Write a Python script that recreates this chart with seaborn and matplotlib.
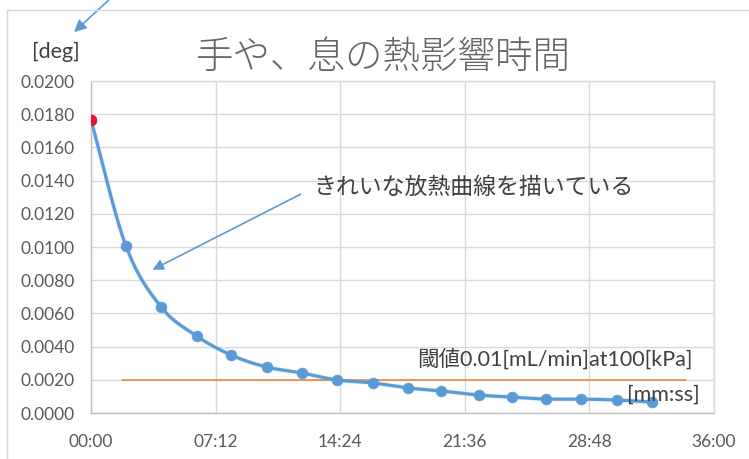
import numpy as np
import pandas as pd
import matplotlib
matplotlib.use("Agg")
import matplotlib.pyplot as plt
from matplotlib.patches import FancyArrowPatch
import seaborn as sns

# Elapsed time [min] and temperature difference [deg]
minutes = [0.0, 2.02, 4.05, 6.1, 8.1, 10.15, 12.2, 14.2, 16.3, 18.3,
           20.25, 22.4, 24.35, 26.3, 28.3, 30.4, 32.4]
deg = [0.01765, 0.01006, 0.00639, 0.00464, 0.00349, 0.00277, 0.00241,
       0.00199, 0.00181, 0.00151, 0.00133, 0.00108, 0.00096, 0.00084,
       0.00084, 0.00078, 0.00066]

# Threshold line (start / end minute, level)
threshold_minutes = [1.8, 34.4]
threshold_level = [0.0020, 0.0020]

x_ticks = [0.0, 7.2, 14.4, 21.6, 28.8, 36.0]
x_tick_labels = ["00:00", "07:12", "14:24", "21:36", "28:48", "36:00"]
y_ticks = [0.000, 0.002, 0.004, 0.006, 0.008, 0.010, 0.012, 0.014, 0.016, 0.018, 0.020]

title = "手や、息の熱影響時間"
note = "きれいな放熱曲線を描いている"
threshold_note = "閾値0.01[mL/min]at100[kPa]"

sns.set_theme(style="white")
plt.rcParams["font.family"] = ["Lato", "Noto Sans CJK JP", "DejaVu Sans"]

W, H = 749, 459
fig = plt.figure(figsize=(W / 100, H / 100), dpi=100)
ax = fig.add_axes([91 / W, (H - 413) / H, 623 / W, (413 - 81) / H])

df = pd.DataFrame({"minutes": minutes, "deg": deg})


def catmull_rom(x, y, n=30):
    """Smooth curve through the points (Catmull-Rom segments)."""
    x = np.asarray(x, float)
    y = np.asarray(y, float)
    px = np.concatenate([[2 * x[0] - x[1]], x, [2 * x[-1] - x[-2]]])
    py = np.concatenate([[2 * y[0] - y[1]], y, [2 * y[-1] - y[-2]]])
    xs, ys = [], []
    t = np.linspace(0, 1, n, endpoint=False)
    for i in range(1, len(px) - 2):
        for arr, out in ((px, xs), (py, ys)):
            p0, p1, p2, p3 = arr[i - 1], arr[i], arr[i + 1], arr[i + 2]
            out.extend(0.5 * ((2 * p1) + (-p0 + p2) * t
                              + (2 * p0 - 5 * p1 + 4 * p2 - p3) * t ** 2
                              + (-p0 + 3 * p1 - 3 * p2 + p3) * t ** 3))
    xs.append(x[-1])
    ys.append(y[-1])
    return pd.DataFrame({"minutes": xs, "deg": ys})


curve = catmull_rom(df["minutes"], df["deg"])

blue = "#5B9BD5"
# faint halo then the curve itself
sns.lineplot(data=curve, x="minutes", y="deg", ax=ax, sort=False, estimator=None,
             color="#CFE8F7", linewidth=3.6, alpha=0.5, zorder=3)
sns.lineplot(data=curve, x="minutes", y="deg", ax=ax, sort=False, estimator=None,
             color=blue, linewidth=2.3, zorder=4)
sns.scatterplot(data=df, x="minutes", y="deg", ax=ax, color=blue, s=60,
                edgecolor=blue, linewidth=0.5, zorder=5)
sns.scatterplot(data=df.iloc[:1], x="minutes", y="deg", ax=ax, color="#E8162E",
                s=60, edgecolor="#E8162E", linewidth=0.5, zorder=6)

thr = pd.DataFrame({"minutes": threshold_minutes, "deg": threshold_level})
sns.lineplot(data=thr, x="minutes", y="deg", ax=ax, color="#ED7D31",
             linewidth=1.1, zorder=3.5)

ax.set_xlim(0, 36)
ax.set_ylim(0, 0.02)
ax.set_xticks(x_ticks)
ax.set_xticklabels(x_tick_labels)
ax.set_yticks(y_ticks)
ax.set_yticklabels([f"{v:.4f}" for v in y_ticks])
ax.set_xlabel("")
ax.set_ylabel("")
ax.grid(True, color="#D9D9D9", linewidth=1.0)
ax.set_axisbelow(True)
for side in ("top", "right"):
    ax.spines[side].set_color("#D9D9D9")
    ax.spines[side].set_linewidth(1.0)
for side in ("left", "bottom"):
    ax.spines[side].set_color("#BFBFBF")
    ax.spines[side].set_linewidth(1.0)
ax.tick_params(axis="both", length=0, labelsize=12.5, labelcolor="#595959")
ax.tick_params(axis="y", pad=12)
ax.tick_params(axis="x", pad=15)

# chart border
fig.add_artist(plt.Line2D([7 / W, 1.02], [1 - 10 / H, 1 - 10 / H],
                          transform=fig.transFigure, color="#D9D9D9", lw=1.0))
fig.add_artist(plt.Line2D([7 / W, 7 / W], [-0.02, 1 - 10 / H],
                          transform=fig.transFigure, color="#D9D9D9", lw=1.0))

# titles and unit labels
fig.text(383 / W, 1 - 57 / H, title, ha="center", va="center",
         fontsize=27, color="#666666", family=["Noto Sans CJK JP"], fontweight="light")
fig.text(32 / W, 1 - 52 / H, "[deg]", ha="left", va="center",
         fontsize=15.5, color="#404040")
fig.text(700 / W, 1 - 395 / H, "[mm:ss]", ha="right", va="center",
         fontsize=15.5, color="#404040")
fig.text(693 / W, 1 - 359 / H, threshold_note, ha="right", va="center",
         fontsize=15.5, color="#404040")
fig.text(313 / W, 1 - 187 / H, note, ha="left", va="center",
         fontsize=16.5, color="#404040", family=["Noto Sans CJK JP"])

# arrows
fig.add_artist(FancyArrowPatch((303, H - 193), (150, H - 271),
                               transform=None, arrowstyle="-|>", mutation_scale=16,
                               color=blue, lw=1.2))
fig.add_artist(FancyArrowPatch((112, H + 3), (72, H - 34),
                               transform=None, arrowstyle="-|>", mutation_scale=18,
                               color=blue, lw=1.2))

fig.savefig("out.png", dpi=100)
